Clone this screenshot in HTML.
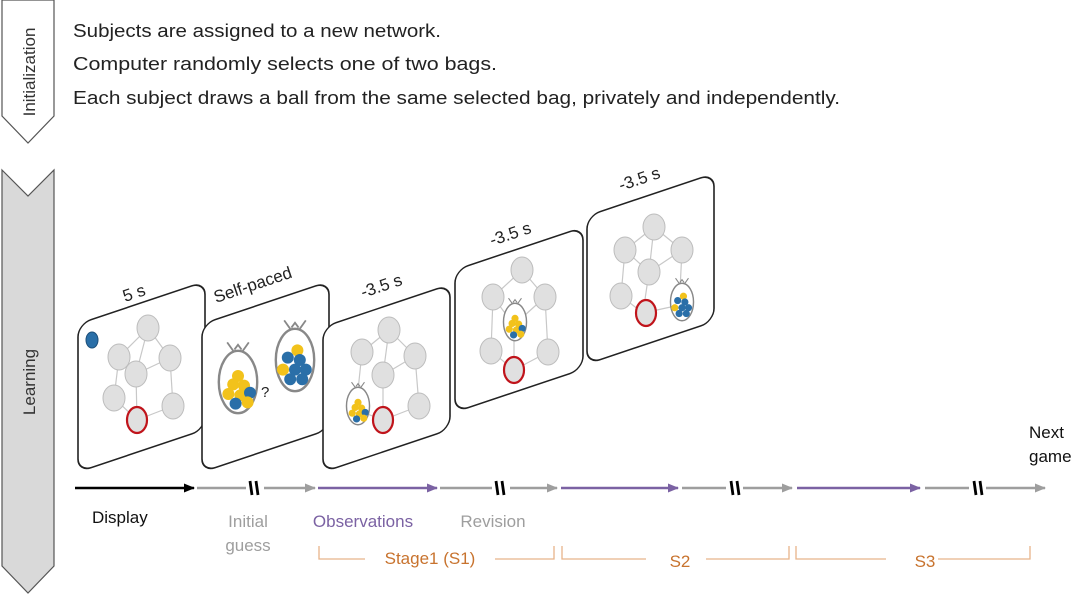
<!DOCTYPE html>
<html><head><meta charset="utf-8"><style>
html,body{margin:0;padding:0;background:#fff;}
svg{display:block;font-family:"Liberation Sans",sans-serif;}
</style></head><body>
<svg width="1080" height="595" viewBox="0 0 1080 595" xmlns="http://www.w3.org/2000/svg">
<defs>
<marker id="ak" markerWidth="11" markerHeight="9" refX="10" refY="4.5" orient="auto" markerUnits="userSpaceOnUse"><path d="M0,0 L11,4.5 L0,9 Z" fill="#000"/></marker>
<marker id="ag" markerWidth="11" markerHeight="9" refX="10" refY="4.5" orient="auto" markerUnits="userSpaceOnUse"><path d="M0,0 L11,4.5 L0,9 Z" fill="#9e9e9e"/></marker>
<marker id="ap" markerWidth="11" markerHeight="9" refX="10" refY="4.5" orient="auto" markerUnits="userSpaceOnUse"><path d="M0,0 L11,4.5 L0,9 Z" fill="#7b62a3"/></marker>
<g id="bagY">
 <path d="M-4,-26 L-9,-33 M4,-26 L9,-33 M-3,-27 L0,-31 L3,-27" stroke="#888" stroke-width="1.5" fill="none"/>
 <ellipse cx="0" cy="0" rx="16" ry="26" fill="#fff" stroke="#888" stroke-width="2"/>
 <circle cx="-4" cy="2" r="5" fill="#f2c21b"/><circle cx="5" cy="3" r="5" fill="#f2c21b"/>
 <circle cx="-8" cy="10" r="5" fill="#f2c21b"/><circle cx="2" cy="11" r="5" fill="#f2c21b"/>
 <circle cx="10" cy="9" r="5" fill="#2a6fa8"/><circle cx="-2" cy="18" r="5" fill="#2a6fa8"/>
 <circle cx="8" cy="17" r="5" fill="#f2c21b"/><circle cx="0" cy="-5" r="5" fill="#f2c21b"/>
</g>
<g id="bagB">
 <path d="M-4,-26 L-9,-33 M4,-26 L9,-33 M-3,-27 L0,-31 L3,-27" stroke="#888" stroke-width="1.5" fill="none"/>
 <ellipse cx="0" cy="0" rx="16" ry="26" fill="#fff" stroke="#888" stroke-width="2"/>
 <circle cx="2" cy="-8" r="5" fill="#f2c21b"/><circle cx="-6" cy="-2" r="5" fill="#2a6fa8"/>
 <circle cx="4" cy="0" r="5" fill="#2a6fa8"/><circle cx="-10" cy="8" r="5" fill="#f2c21b"/>
 <circle cx="0" cy="8" r="5" fill="#2a6fa8"/><circle cx="9" cy="8" r="5" fill="#2a6fa8"/>
 <circle cx="-4" cy="16" r="5" fill="#2a6fa8"/><circle cx="6" cy="16" r="5" fill="#2a6fa8"/>
</g>
</defs>

<path d="M2,0 L54,0 L54,116 L28,143 L2,116 Z" fill="#fff" stroke="#555" stroke-width="1.2"/>
<text transform="translate(35,72) rotate(-90)" text-anchor="middle" font-size="17" fill="#333">Initialization</text>
<path d="M2,170 L28,196 L54,170 L54,566 L28,593 L2,566 Z" fill="#d9d9d9" stroke="#555" stroke-width="1.2"/>
<text transform="translate(35,382) rotate(-90)" text-anchor="middle" font-size="17" fill="#333">Learning</text>

<g font-size="18" fill="#222">
<text x="73" y="37" textLength="368" lengthAdjust="spacingAndGlyphs">Subjects are assigned to a new network.</text>
<text x="73" y="70" textLength="424" lengthAdjust="spacingAndGlyphs">Computer randomly selects one of two bags.</text>
<text x="73" y="104" textLength="767" lengthAdjust="spacingAndGlyphs">Each subject draws a ball from the same selected bag, privately and independently.</text>
</g>

<g fill="#fff" stroke="#222" stroke-width="1.6">
<g transform="translate(78,324) skewY(-18.5)"><rect x="0" y="0" width="127" height="148" rx="13"/></g>
<g transform="translate(202,324) skewY(-18.5)"><rect x="0" y="0" width="127" height="148" rx="13"/></g>
<g transform="translate(323,327) skewY(-18.5)"><rect x="0" y="0" width="127" height="145" rx="13"/></g>
<g transform="translate(455,270) skewY(-18.5)"><rect x="0" y="0" width="128" height="142" rx="13"/></g>
<g transform="translate(587,216) skewY(-18.5)"><rect x="0" y="0" width="127" height="148" rx="13"/></g>
</g>

<g font-size="17" fill="#222">
<text transform="translate(125,302) rotate(-18.5)">5 s</text>
<text transform="translate(216,303) rotate(-18.5)">Self-paced</text>
<text transform="translate(363,298) rotate(-18.5)">-3.5 s</text>
<text transform="translate(492,246) rotate(-18.5)">-3.5 s</text>
<text transform="translate(621,191) rotate(-18.5)">-3.5 s</text>
</g>

<g stroke="#c8c8c8" stroke-width="1.2" fill="none">
<path d="M148,328 L119,357 M148,328 L136,374 M148,328 L170,358 M119,357 L114,398 M119,357 L136,374 M136,374 L170,358 M136,374 L137,420 M114,398 L137,420 M137,420 L173,406 M170,358 L173,406"/>
<path d="M389,330 L362,352 M389,330 L383,375 M389,330 L415,356 M362,352 L357,400 M383,375 L415,356 M383,375 L383,420 M357,410 L383,420 M383,420 L419,406 M415,356 L419,406"/>
<path d="M522,270 L493,297 M522,270 L545,297 M493,297 L514,325 M545,297 L514,325 M493,297 L491,351 M545,297 L548,352 M514,325 L514,370 M491,351 L514,370 M514,370 L548,352"/>
<path d="M654,227 L625,250 M654,227 L682,250 M654,227 L649,272 M625,250 L649,272 M682,250 L649,272 M625,250 L621,296 M649,272 L643,313 M621,296 L643,313 M643,313 L680,305 M682,250 L680,290"/>
</g>
<g fill="#e0e0e0" stroke="#bdbdbd" stroke-width="1">
<ellipse cx="148" cy="328" rx="11" ry="13"/><ellipse cx="119" cy="357" rx="11" ry="13"/><ellipse cx="170" cy="358" rx="11" ry="13"/><ellipse cx="136" cy="374" rx="11" ry="13"/><ellipse cx="114" cy="398" rx="11" ry="13"/><ellipse cx="173" cy="406" rx="11" ry="13"/>
<ellipse cx="389" cy="330" rx="11" ry="13"/><ellipse cx="362" cy="352" rx="11" ry="13"/><ellipse cx="415" cy="356" rx="11" ry="13"/><ellipse cx="383" cy="375" rx="11" ry="13"/><ellipse cx="419" cy="406" rx="11" ry="13"/>
<ellipse cx="522" cy="270" rx="11" ry="13"/><ellipse cx="493" cy="297" rx="11" ry="13"/><ellipse cx="545" cy="297" rx="11" ry="13"/><ellipse cx="491" cy="351" rx="11" ry="13"/><ellipse cx="548" cy="352" rx="11" ry="13"/>
<ellipse cx="654" cy="227" rx="11" ry="13"/><ellipse cx="625" cy="250" rx="11" ry="13"/><ellipse cx="682" cy="250" rx="11" ry="13"/><ellipse cx="649" cy="272" rx="11" ry="13"/><ellipse cx="621" cy="296" rx="11" ry="13"/>
</g>
<g fill="#e0e0e0" stroke="#c0141b" stroke-width="2.2">
<ellipse cx="137" cy="420" rx="10" ry="13"/><ellipse cx="383" cy="420" rx="10" ry="13"/><ellipse cx="514" cy="370" rx="10" ry="13"/><ellipse cx="646" cy="313" rx="10" ry="13"/>
</g>
<ellipse cx="92" cy="340" rx="6" ry="8" fill="#2a6fa8" stroke="#1d4f7a"/>

<use href="#bagY" transform="translate(238,382) scale(1.2)"/>
<use href="#bagB" transform="translate(295,360) scale(1.2)"/>
<text x="261" y="397" font-size="15" fill="#222">?</text>
<use href="#bagY" transform="translate(358,406) scale(0.72)"/>
<use href="#bagY" transform="translate(515,322) scale(0.72)"/>
<use href="#bagB" transform="translate(682,302) scale(0.72)"/>

<g stroke-width="2.5" fill="none">
<line x1="75" y1="488" x2="194" y2="488" stroke="#000" marker-end="url(#ak)"/>
<line x1="197" y1="488" x2="246" y2="488" stroke="#9e9e9e"/>
<line x1="264" y1="488" x2="315" y2="488" stroke="#9e9e9e" marker-end="url(#ag)"/>
<line x1="318" y1="488" x2="437" y2="488" stroke="#7b62a3" marker-end="url(#ap)"/>
<line x1="440" y1="488" x2="492" y2="488" stroke="#9e9e9e"/>
<line x1="510" y1="488" x2="557" y2="488" stroke="#9e9e9e" marker-end="url(#ag)"/>
<line x1="561" y1="488" x2="678" y2="488" stroke="#7b62a3" marker-end="url(#ap)"/>
<line x1="682" y1="488" x2="726" y2="488" stroke="#9e9e9e"/>
<line x1="743" y1="488" x2="792" y2="488" stroke="#9e9e9e" marker-end="url(#ag)"/>
<line x1="797" y1="488" x2="920" y2="488" stroke="#7b62a3" marker-end="url(#ap)"/>
<line x1="925" y1="488" x2="969" y2="488" stroke="#9e9e9e"/>
<line x1="986" y1="488" x2="1045" y2="488" stroke="#9e9e9e" marker-end="url(#ag)"/>
</g>
<g stroke="#000" stroke-width="2.8">
<path d="M250,481 L252,495 M256,481 L258,495"/>
<path d="M496,481 L498,495 M502,481 L504,495"/>
<path d="M731,481 L733,495 M737,481 L739,495"/>
<path d="M974,481 L976,495 M980,481 L982,495"/>
</g>

<g font-size="17">
<text x="92" y="523" fill="#111">Display</text>
<text x="248" y="527" fill="#9e9e9e" text-anchor="middle">Initial</text>
<text x="248" y="551" fill="#9e9e9e" text-anchor="middle">guess</text>
<text x="363" y="527" fill="#7b62a3" text-anchor="middle">Observations</text>
<text x="493" y="527" fill="#9e9e9e" text-anchor="middle">Revision</text>
<text x="1029" y="438" fill="#111">Next</text>
<text x="1029" y="462" fill="#111">game</text>
<text x="430" y="564" fill="#c8732e" text-anchor="middle">Stage1 (S1)</text>
<text x="680" y="567" fill="#c8732e" text-anchor="middle">S2</text>
<text x="925" y="567" fill="#c8732e" text-anchor="middle">S3</text>
</g>
<g stroke="#e8b48a" stroke-width="1.3" fill="none">
<path d="M319,546 L319,559 L365,559 M495,559 L554,559 L554,546"/>
<path d="M562,546 L562,559 L646,559 M706,559 L789,559 L789,546"/>
<path d="M796,546 L796,559 L886,559 M938,559 L1030,559 L1030,546"/>
</g>
</svg>
</body></html>
